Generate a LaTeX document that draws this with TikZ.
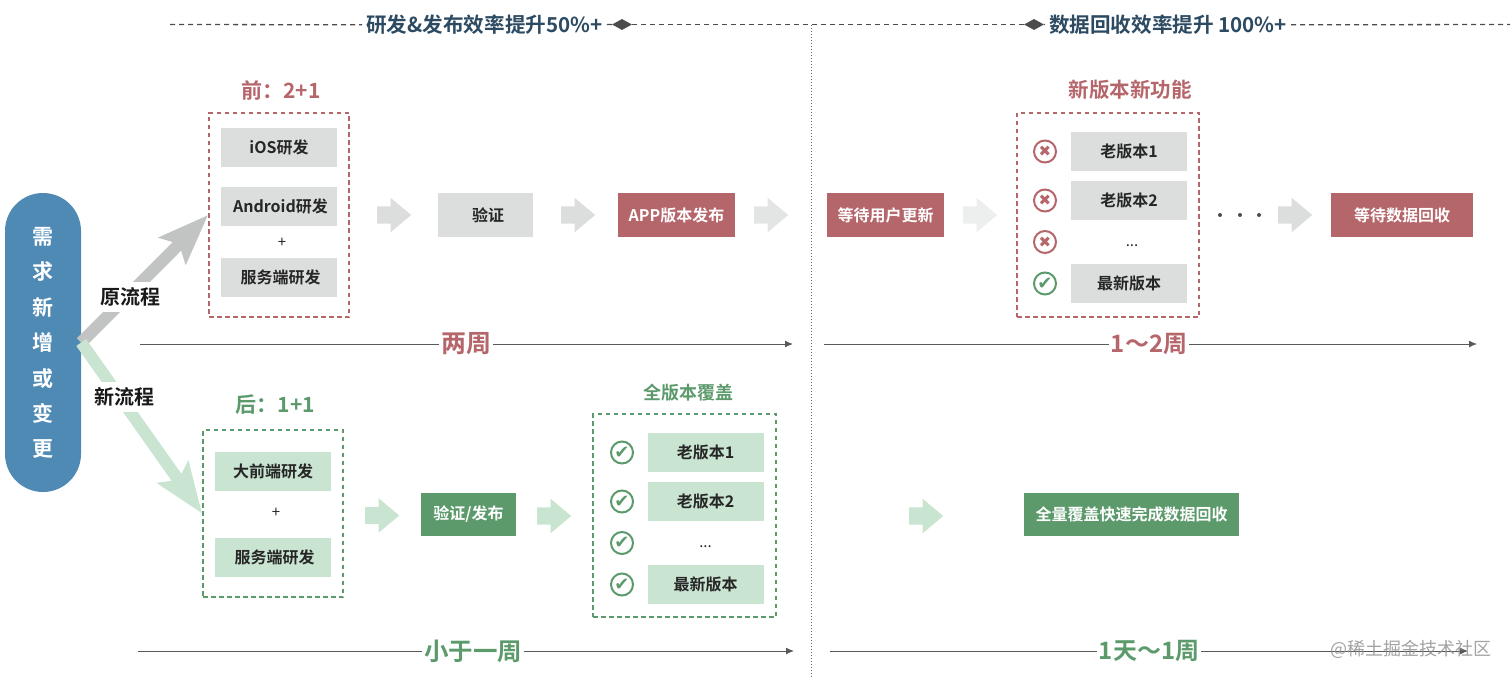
\documentclass[tikz,border=0pt]{standalone}
\usepackage{fontspec}
\setmainfont{Noto Sans CJK SC}[BoldFont={Noto Sans CJK SC Bold}]
\newfontfamily\iconfont{DejaVu Sans}
\usetikzlibrary{arrows.meta,shapes.geometric,shapes.arrows}
\definecolor{reqblue}{HTML}{4F8AB5}
\definecolor{darkred}{HTML}{B5666B}
\definecolor{darkgreen}{HTML}{5C9A6C}
\definecolor{lightgreen}{HTML}{C9E4D1}
\definecolor{boxgray}{HTML}{DCDEDE}
\definecolor{arrowgray}{HTML}{C2C4C4}
\definecolor{headblue}{HTML}{2C4A61}
\tikzset{
  txt/.style={font=\fontsize{16}{18}\selectfont\bfseries, text=black!85},
  graybox/.style={txt, fill=boxgray, minimum width=116pt, minimum height=39pt, inner sep=0pt},
  greenbox/.style={graybox, fill=lightgreen},
  redstep/.style={txt, text=white, fill=darkred, minimum width=117pt, minimum height=43pt, inner sep=0pt},
  greenstep/.style={redstep, fill=darkgreen},
  redframe/.style={draw=darkred, line width=1.8pt, dash pattern=on 4.5pt off 3.5pt},
  greenframe/.style={draw=darkgreen, line width=1.8pt, dash pattern=on 4.5pt off 3.5pt},
  flowarrow/.style={single arrow, fill=boxgray, minimum height=34pt, text width=0pt, text height=17pt, text depth=0pt, inner sep=0pt, single arrow head extend=8.5pt, single arrow tip angle=80},
  bigarrow/.style={line width=12pt, -{Stealth[length=50pt, width=37pt, inset=9pt]}},
  headline/.style={draw=black!70, line width=1.3pt, dash pattern=on 5pt off 4pt},
  timeline/.style={draw=black!65, line width=1pt},
  timetip/.style={timeline, -{Latex[length=8pt, width=7pt]}},
  diamondmark/.style={diamond, fill=black!70, minimum width=20pt, minimum height=11pt, inner sep=0pt, aspect=2},
  headtxt/.style={font=\fontsize{20.6}{24}\selectfont\bfseries, text=headblue, inner sep=4pt},
  crossicon/.style={circle, draw=darkred, line width=2pt, text=darkred, minimum size=22pt, inner sep=0pt, font=\iconfont\fontsize{15}{15}\selectfont},
  checkicon/.style={circle, draw=darkgreen, line width=2pt, text=darkgreen, minimum size=22pt, inner sep=0pt, font=\iconfont\fontsize{18}{18}\selectfont},
  redlabel/.style={font=\fontsize{20.5}{24}\selectfont\bfseries, text=darkred},
  greenlabel/.style={font=\fontsize{18}{22}\selectfont\bfseries, text=darkgreen},
  redtime/.style={font=\fontsize{24}{28}\selectfont\bfseries, text=darkred, inner sep=2pt},
  greentime/.style={font=\fontsize{24}{28}\selectfont\bfseries, text=darkgreen, inner sep=2pt},
  flowlabel/.style={font=\fontsize{20}{24}\selectfont\bfseries, text=black!90, fill=white, inner xsep=1pt, inner ysep=6pt}
}
\begin{document}
\begin{tikzpicture}[x=1pt,y=-1pt]
    \useasboundingbox (0,0) rectangle (1512,679);

    \coordinate(headstart) at (170,24.5);
    \coordinate(headend) at (1510,24.5);
    \node(headdev)[headtxt] at (484.5,25) {研发\&发布效率提升50\%+};
    \node(headdata)[headtxt] at (1168,25) {数据回收效率提升 100\%+};
    \node(diadev)[diamondmark] at (622,24.5) {};
    \node(diadata)[diamondmark] at (1034,24.5) {};
    \draw[headline] (headstart) -- (headdev);
    \draw[headline] (headdev) -- (diadev);
    \draw[headline] (diadev) -- (diadata);
    \draw[headline] (diadata) -- (headdata);
    \draw[headline] (headdata) -- (headend);

    \coordinate(divtop) at (811,25);
    \coordinate(divbottom) at (811,679);
    \draw[draw=black!60, line width=1pt, dotted] (divtop) -- (divbottom);

    \node(frameold)[redframe, minimum width=140pt, minimum height=204pt, inner sep=0pt] at (279,215) {};
    \node(framenew)[greenframe, minimum width=140pt, minimum height=167pt, inner sep=0pt] at (273,513.5) {};

    \node(req)[fill=reqblue, rounded corners=38pt, minimum width=76pt, minimum height=299pt, inner sep=0pt] at (43,342.5) {};
    \draw[bigarrow, arrowgray] (req.east) -- (frameold.west);
    \draw[bigarrow, lightgreen] (req.east) -- (framenew.west);
    \node(reqtext)[align=center, text=white, font=\fontsize{21}{35.4}\selectfont\bfseries] at (43,343) {需\\求\\新\\增\\或\\变\\更};
    \node(oldflow)[flowlabel] at (130,297) {原流程};
    \node(newflow)[flowlabel] at (124,397) {新流程};

    \node(oldtitle)[redlabel, font=\fontsize{21}{24}\selectfont\bfseries] at (281,90) {前：2+1};
    \node(ios)[graybox] at (279,147.5) {iOS研发};
    \node(android)[graybox] at (279,206.5) {\hspace*{3pt}Android研发};
    \node(plusold)[txt, font=\fontsize{15}{18}\selectfont] at (282,243) {+};
    \node(serverold)[graybox] at (279,277.5) {\hspace*{3pt}服务端研发};
    \node(arrow1)[flowarrow] at (389,215) {};
    \node(verify)[graybox, minimum width=95pt, minimum height=43pt] at (485.5,215) {\hspace*{5pt}验证};
    \node(arrow2)[flowarrow] at (573,215) {};
    \node(release)[redstep] at (676.5,215) {APP版本发布};
    \node(arrow3)[flowarrow, fill=boxgray!80] at (766,215) {};
    \node(waituser)[redstep] at (885.5,215) {等待用户更新};
    \node(arrow4)[flowarrow, fill=boxgray!50] at (975,215) {};

    \node(newfeat)[redlabel] at (1130,90) {新版本新功能};
    \node(framefeat)[redframe, minimum width=182pt, minimum height=204pt, inner sep=0pt] at (1108,215) {};
    \node(oldone)[graybox] at (1129,151.5) {老版本1};
    \node(oldtwo)[graybox] at (1129,200.5) {老版本2};
    \node(olddots)[txt, font=\fontsize{15}{18}\selectfont] at (1132,246) {...};
    \node(oldlast)[graybox] at (1129,283.5) {最新版本};
    \node(cross1)[crossicon] at (1045,151.5) {✖};
    \node(cross2)[crossicon] at (1045,200.5) {✖};
    \node(cross3)[crossicon] at (1045,242) {✖};
    \node(check0)[checkicon] at (1045,283.5) {✔};
    \node(dot1)[circle, fill=black!70, minimum size=4pt, inner sep=0pt] at (1220,215) {};
    \node(dot2)[circle, fill=black!70, minimum size=4pt, inner sep=0pt] at (1240,215) {};
    \node(dot3)[circle, fill=black!70, minimum size=4pt, inner sep=0pt] at (1259,215) {};
    \node(arrow5)[flowarrow] at (1290,215) {};
    \node(waitdata)[redstep, minimum width=142pt] at (1402,215) {等待数据回收};

    \coordinate(timeastart) at (140,344);
    \coordinate(timeaend) at (793,344);
    \node(twoweeks)[redtime, font=\fontsize{25}{28}\selectfont\bfseries] at (466,344) {两周};
    \draw[timeline] (timeastart) -- (twoweeks);
    \draw[timetip] (twoweeks) -- (timeaend);
    \coordinate(timebstart) at (824,344);
    \coordinate(timebend) at (1477,344);
    \node(oneweeks)[redtime] at (1149,344) {1～2周};
    \draw[timeline] (timebstart) -- (oneweeks);
    \draw[timetip] (oneweeks) -- (timebend);

    \node(newtitle)[greenlabel, font=\fontsize{21}{24}\selectfont\bfseries] at (275.5,405) {后：1+1};
    \node(bigfront)[greenbox] at (273,471.5) {大前端研发};
    \node(plusnew)[txt, font=\fontsize{15}{18}\selectfont] at (276,513) {+};
    \node(servernew)[greenbox] at (273,557.5) {\hspace*{3pt}服务端研发};
    \node(arrow6)[flowarrow, fill=lightgreen] at (377,515.5) {};
    \node(verifynew)[greenstep, minimum width=95pt] at (468.5,514) {验证/发布};
    \node(arrow7)[flowarrow, fill=lightgreen] at (549,516) {};

    \node(alltitle)[greenlabel] at (688,393) {全版本覆盖};
    \node(frameall)[greenframe, minimum width=183pt, minimum height=203pt, inner sep=0pt] at (684.5,515.5) {};
    \node(allone)[greenbox] at (705.5,452.5) {老版本1};
    \node(alltwo)[greenbox] at (705.5,501.5) {老版本2};
    \node(alldots)[txt, font=\fontsize{15}{18}\selectfont] at (705.5,547) {...};
    \node(alllast)[greenbox] at (705.5,584.5) {最新版本};
    \node(check1)[checkicon] at (622,452.5) {✔};
    \node(check2)[checkicon] at (622,501.5) {✔};
    \node(check3)[checkicon] at (622,543) {✔};
    \node(check4)[checkicon] at (622,584.5) {✔};
    \node(arrow8)[flowarrow, fill=lightgreen] at (921,516) {};
    \node(fulldata)[greenstep, minimum width=215pt] at (1131.5,514.5) {全量覆盖快速完成数据回收};

    \coordinate(timecstart) at (138,651);
    \coordinate(timecend) at (794,651);
    \node(lessweek)[greentime, font=\fontsize{24.5}{28}\selectfont\bfseries] at (473,651) {小于一周};
    \draw[timeline] (timecstart) -- (lessweek);
    \draw[timetip] (lessweek) -- (timecend);
    \coordinate(timedstart) at (830,651);
    \coordinate(timedend) at (1468,651);
    \node(dayweek)[greentime] at (1149,651) {1天～1周};
    \draw[timeline] (timedstart) -- (dayweek);
    \draw[timetip] (dayweek) -- (timedend);

    \node(mark)[text=black!45, opacity=0.8, font=\fontsize{18}{20}\selectfont] at (1411,649) {@稀土掘金技术社区};
\end{tikzpicture}
\end{document}
